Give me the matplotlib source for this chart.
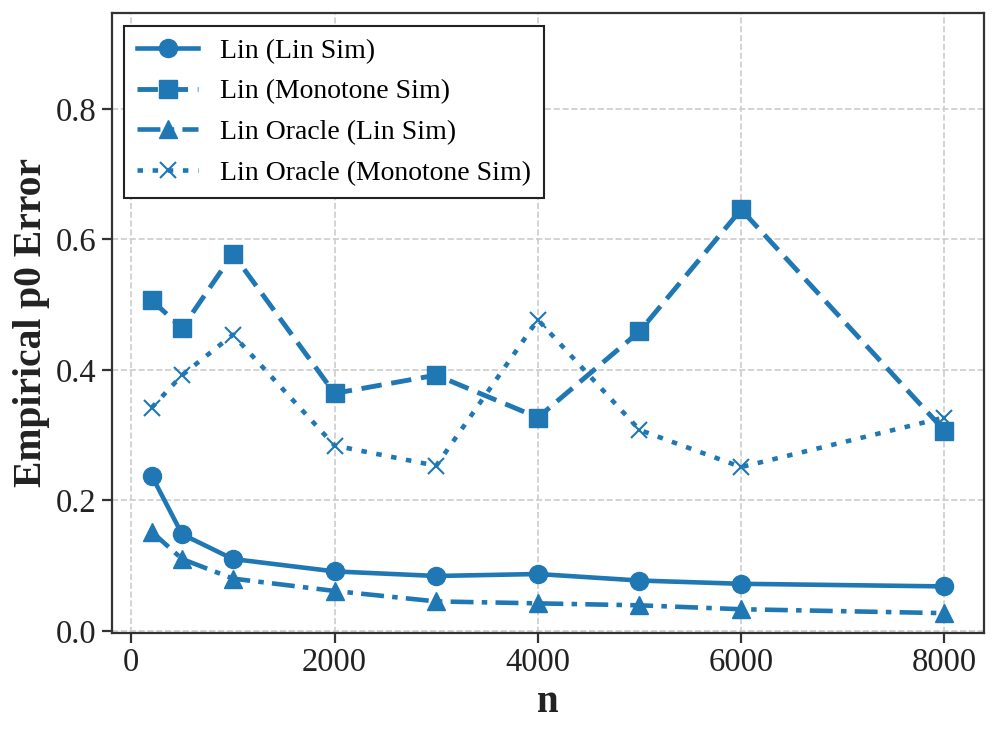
import numpy as np
import matplotlib
matplotlib.use("Agg")
import matplotlib.pyplot as plt

plt.rcParams['font.family'] = ['Liberation Serif', 'DejaVu Serif']

n = [200, 500, 1000, 2000, 3000, 4000, 5000, 6000, 8000]
lin_lin = [0.238, 0.148, 0.110, 0.091, 0.084, 0.087, 0.077, 0.072, 0.068]
lin_mono = [0.507, 0.464, 0.578, 0.364, 0.392, 0.327, 0.459, 0.646, 0.307]
oracle_lin = [0.152, 0.110, 0.080, 0.061, 0.045, 0.042, 0.039, 0.033, 0.027]
oracle_mono = [0.342, 0.392, 0.454, 0.284, 0.253, 0.477, 0.308, 0.251, 0.327]

color = '#1f77b4'

fig, ax = plt.subplots(figsize=(9.97, 7.34), dpi=100)
fig.subplots_adjust(left=0.1123, right=0.987, top=0.982, bottom=0.138)

ax.plot(n, lin_lin, color=color, linestyle='-', marker='o', lw=3.3, ms=13, label='Lin (Lin Sim)')
ax.plot(n, lin_mono, color=color, linestyle=(0, (4.2, 2.0)), marker='s', lw=3.5, ms=13, label='Lin (Monotone Sim)')
ax.plot(n, oracle_lin, color=color, linestyle=(0, (5.0, 1.8, 1.2, 1.8)), marker='^', lw=3.3, ms=13, label='Lin Oracle (Lin Sim)')
ax.plot(n, oracle_mono, color=color, linestyle=(0, (1.2, 2.1)), marker='x', lw=3.3, ms=11, mew=1.5, label='Lin Oracle (Monotone Sim)')

ax.set_ylim(-0.003, 0.947)
ax.set_xticks([0, 2000, 4000, 6000, 8000])
ax.set_yticks([0.0, 0.2, 0.4, 0.6, 0.8])
ax.grid(True, linestyle='--', color='#cccccc', lw=1.2)
ax.set_axisbelow(True)

for s in ax.spines.values():
    s.set_color('#333333')
    s.set_linewidth(1.6)
ax.tick_params(axis='both', which='major', direction='out', bottom=True, left=True,
               labelsize=23.5, length=7, width=1.6, color='#333333',
               labelcolor='#222222', pad=4)

ax.set_xlabel('n', fontsize=28, fontweight='bold', color='#222222', labelpad=4)
ax.set_ylabel('Empirical p0 Error', fontsize=28.5, fontweight='bold', color='#222222', labelpad=4)

leg = ax.legend(loc='upper left', fontsize=20, fancybox=False, framealpha=1, edgecolor='#222222',
                handlelength=2.2, borderpad=0.45, labelspacing=0.55, borderaxespad=0.45)
leg.get_frame().set_linewidth(1.5)

fig.savefig('out.png', dpi=100)
